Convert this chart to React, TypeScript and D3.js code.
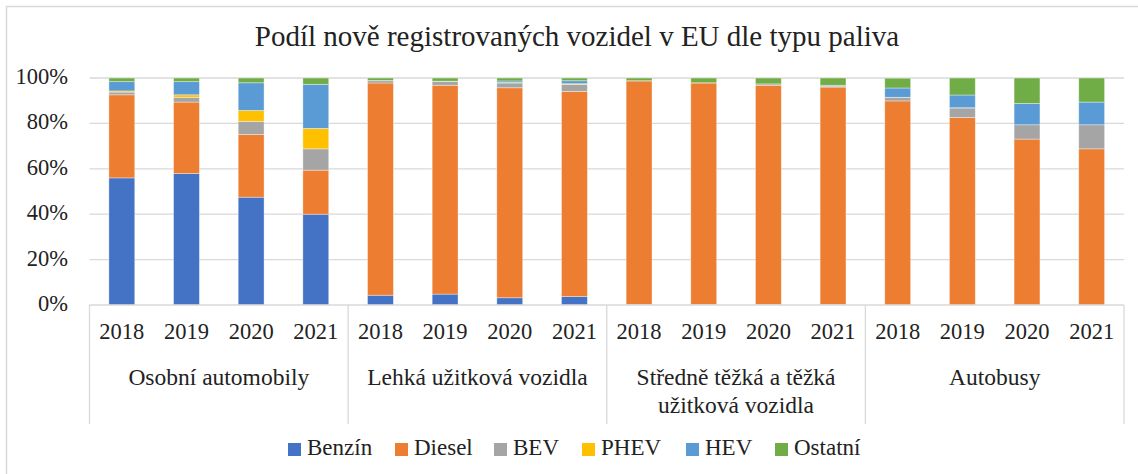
import React from "react";
import * as d3 from "d3";

const groups = ["Osobní automobily", "Lehká užitková vozidla", "Středně těžká a těžká užitková vozidla", "Autobusy"];
const groupLines = [["Osobní automobily"], ["Lehká užitková vozidla"], ["Středně těžká a těžká", "užitková vozidla"], ["Autobusy"]];
const years = ["2018", "2019", "2020", "2021"];
const seriesNames = ["Benzín", "Diesel", "BEV", "PHEV", "HEV", "Ostatní"];
const colors = ["#4472C4", "#ED7D31", "#A5A5A5", "#FFC000", "#5B9BD5", "#70AD47"];

// values per category (group x year), in order of groups then years
const benzin = [56.0, 57.9, 47.5, 40.0, 4.3, 4.8, 3.2, 3.7, 0.2, 0.2, 0.2, 0.2, 0.0, 0.0, 0.0, 0.0];
const diesel = [36.6, 31.5, 27.6, 19.4, 93.5, 92.0, 92.5, 90.4, 98.5, 97.6, 96.6, 95.8, 89.9, 82.6, 73.1, 68.8];
const bev = [1.2, 2.1, 5.8, 9.4, 1.0, 1.6, 2.1, 3.1, 0.1, 0.1, 0.6, 0.4, 1.5, 4.2, 6.3, 10.6];
const phev = [0.5, 1.1, 4.8, 9.0, 0.0, 0.1, 0.2, 0.3, 0.0, 0.0, 0.0, 0.0, 0.1, 0.1, 0.0, 0.0];
const hev = [4.1, 5.8, 12.2, 19.4, 0.1, 0.1, 0.7, 1.3, 0.0, 0.0, 0.0, 0.4, 4.1, 5.6, 9.4, 10.0];
const ostatni = [1.6, 1.6, 2.1, 2.8, 1.1, 1.4, 1.3, 1.2, 1.2, 2.1, 2.6, 3.2, 4.3, 7.5, 11.2, 10.6];
const yTicks = [0, 20, 40, 60, 80, 100];

const FONT = "Liberation Serif, DejaVu Serif, serif";

export default function App() {
  const W = 1138, H = 474;
  const left = 89.5, right = 1124, top = 78, bottom = 305;
  const cats = groups.flatMap((g, gi) => years.map((y) => `${gi}-${y}`));
  const rows = cats.map((c, i) => ({
    key: c,
    Benzín: benzin[i], Diesel: diesel[i], BEV: bev[i], PHEV: phev[i], HEV: hev[i], Ostatní: ostatni[i],
  }));
  const x = d3.scaleBand<string>().domain(cats).range([left, right]).paddingInner(0.6).paddingOuter(0.3);
  const y = d3.scaleLinear().domain([0, 100]).range([bottom, top]);
  const stack = d3.stack<any>().keys(seriesNames);
  const layers = stack(rows);
  const step = (right - left) / cats.length;
  const axisBottom = 424;

  const legendItems = [
    { name: "Benzín", mx: 288 },
    { name: "Diesel", mx: 395 },
    { name: "BEV", mx: 494 },
    { name: "PHEV", mx: 582 },
    { name: "HEV", mx: 686 },
    { name: "Ostatní", mx: 775 },
  ];

  return (
    <svg width={W} height={H} style={{ position: "absolute", left: 0, top: 0, background: "#fff", fontFamily: FONT }}>
      <rect x={6.5} y={6.5} width={1150} height={500} fill="#fff" stroke="#d9d9d9" strokeWidth={1.5} />
      <text x={577} y={46} textAnchor="middle" fontSize={29} fill="#222">Podíl nově registrovaných vozidel v EU dle typu paliva</text>
      {yTicks.map((t) => (
        <g key={t}>
          {t > 0 && <line x1={left} x2={right} y1={y(t)} y2={y(t)} stroke="#d9d9d9" strokeWidth={1.3} />}
          <text x={68} y={y(t) + 6} textAnchor="end" fontSize={22.5} fill="#222">{t}%</text>
        </g>
      ))}
      {layers.map((layer, li) => (
        <g key={layer.key} fill={colors[li]}>
          {layer.map((d, i) => {
            const h = y(d[0]) - y(d[1]);
            if (h <= 0) return null;
            return (
              <rect key={i} x={x(cats[i])} y={y(d[1])} width={x.bandwidth()} height={h}
                stroke="#ffffff" strokeOpacity={0.45} strokeWidth={0.8} />
            );
          })}
        </g>
      ))}
      <line x1={left} x2={right} y1={bottom} y2={bottom} stroke="#d9d9d9" strokeWidth={1.3} />
      {groups.map((g, gi) => (
        <line key={g} x1={left + gi * 4 * step} x2={left + gi * 4 * step} y1={bottom} y2={axisBottom} stroke="#d9d9d9" strokeWidth={1.3} />
      ))}
      <line x1={right} x2={right} y1={bottom} y2={axisBottom} stroke="#d9d9d9" strokeWidth={1.3} />
      {cats.map((c, i) => (
        <text key={c} x={(x(c) as number) + x.bandwidth() / 2} y={339} textAnchor="middle" fontSize={22.5} fill="#222">
          {years[i % 4]}
        </text>
      ))}
      {groupLines.map((lines, gi) => (
        <text key={gi} x={left + (gi * 4 + 2) * step} y={385} textAnchor="middle" fontSize={23.5} fill="#222">
          {lines.map((l, li) => (
            <tspan key={li} x={left + (gi * 4 + 2) * step} dy={li === 0 ? 0 : 28}>{l}</tspan>
          ))}
        </text>
      ))}
      {legendItems.map((it) => {
        const idx = seriesNames.indexOf(it.name);
        return (
          <g key={it.name}>
            <rect x={it.mx} y={443} width={13} height={13} fill={colors[idx]} />
            <text x={it.mx + 19} y={455} fontSize={23} fill="#222">{it.name}</text>
          </g>
        );
      })}
    </svg>
  );
}
